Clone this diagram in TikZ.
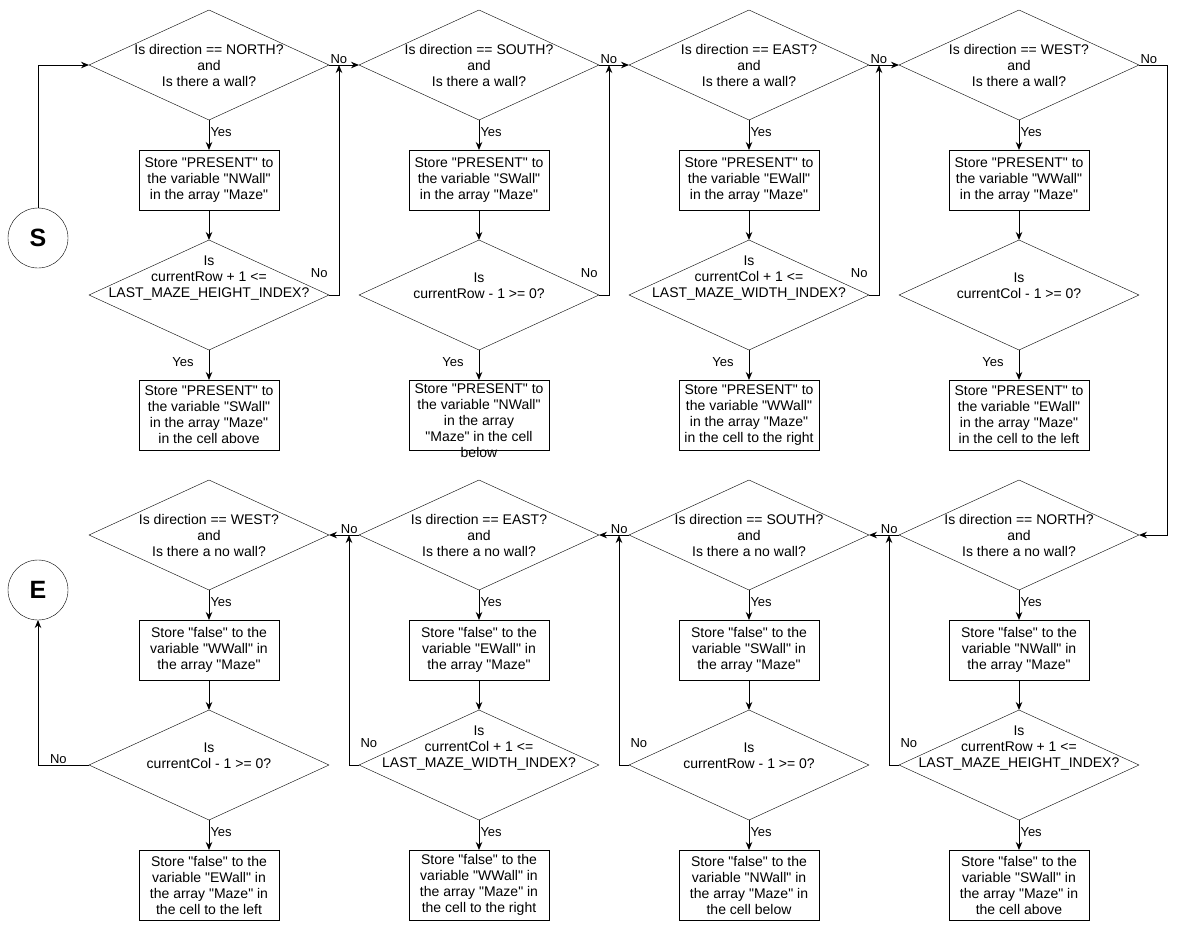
\documentclass[tikz,border=0pt]{standalone}
\usepackage{fontspec}
\setmainfont{Liberation Sans}
\newfontfamily\plainsans{Liberation Sans}
\usepackage{tikz}
\usetikzlibrary{shapes.geometric, positioning, arrows.meta, calc}

\begin{document}
\begin{tikzpicture}[
        x=1pt, y=-1pt,
        node distance=30pt and 30pt,
        dec/.style={draw, diamond, minimum width=240pt, minimum height=110pt, inner sep=0pt, outer sep=0pt},
        dtext/.style={align=center, inner sep=0pt, font=\plainsans\fontsize{14}{16}\selectfont},
        box/.style={draw, rectangle, minimum width=140pt, minimum height=60pt, align=center, inner sep=1pt, outer sep=0pt, font=\plainsans\fontsize{14}{16}\selectfont},
        tall/.style={box, minimum height=70pt},
        term/.style={draw, circle, minimum size=60pt, inner sep=0pt, outer sep=0pt, font=\plainsans\fontsize{25}{25}\selectfont\bfseries},
        yn/.style={inner sep=1pt, font=\plainsans\fontsize{13}{15}\selectfont},
        arr/.style={-{Stealth[length=8pt, width=6.5pt]}, line width=1pt}
    ]
    \useasboundingbox (0,0) rectangle (1178,929);

    % walls present
    \node[term] (start) at (38,238) {S};
    \node[dec, label={[dtext]center:{Is direction == NORTH?\\and\\Is there a wall?}}] (dN) at (209,65) {};
    \node[dec, right=of dN, label={[dtext]center:{Is direction == SOUTH?\\and\\Is there a wall?}}] (dS) {};
    \node[dec, right=of dS, label={[dtext]center:{Is direction == EAST?\\and\\Is there a wall?}}] (dE) {};
    \node[dec, right=of dE, label={[dtext]center:{Is direction == WEST?\\and\\Is there a wall?}}] (dW) {};

    \node[box, below=of dN] (sN) {Store "PRESENT" to\\the variable "NWall"\\in the array "Maze"};
    \node[box, below=of dS] (sS) {Store "PRESENT" to\\the variable "SWall"\\in the array "Maze"};
    \node[box, below=of dE] (sE) {Store "PRESENT" to\\the variable "EWall"\\in the array "Maze"};
    \node[box, below=of dW] (sW) {Store "PRESENT" to\\the variable "WWall"\\in the array "Maze"};

    \node[dec, below=of sN, label={[dtext]center:{Is\\currentRow + 1 <=\\LAST\_MAZE\_HEIGHT\_INDEX?\\\strut\\\strut}}] (bN) {};
    \node[dec, below=of sS, label={[dtext]center:{\strut\\Is\\currentRow - 1 >= 0?\\\strut\\\strut}}] (bS) {};
    \node[dec, below=of sE, label={[dtext]center:{Is\\currentCol + 1 <=\\LAST\_MAZE\_WIDTH\_INDEX?\\\strut\\\strut}}] (bE) {};
    \node[dec, below=of sW, label={[dtext]center:{\strut\\Is\\currentCol - 1 >= 0?\\\strut\\\strut}}] (bW) {};

    \node[tall, below=of bN] (nN) {Store "PRESENT" to\\the variable "SWall"\\in the array "Maze"\\in the cell above};
    \node[tall, below=of bS] (nS) {};
    \node[dtext, below=4pt of nS.north] (nStext) {Store "PRESENT" to\\the variable "NWall"\\in the array\\"Maze" in the cell\\below};
    \node[tall, below=of bE] (nE) {Store "PRESENT" to\\the variable "WWall"\\in the array "Maze"\\in the cell to the right};
    \node[tall, below=of bW] (nW) {Store "PRESENT" to\\the variable "EWall"\\in the array "Maze"\\in the cell to the left};

    % no walls
    \node[dec, label={[dtext]center:{Is direction == NORTH?\\and\\Is there a no wall?}}] (dNo) at (1019,535) {};
    \node[dec, left=of dNo, label={[dtext]center:{Is direction == SOUTH?\\and\\Is there a no wall?}}] (dSo) {};
    \node[dec, left=of dSo, label={[dtext]center:{Is direction == EAST?\\and\\Is there a no wall?}}] (dEo) {};
    \node[dec, left=of dEo, label={[dtext]center:{Is direction == WEST?\\and\\Is there a no wall?}}] (dWo) {};
    \node[term] (stop) at (38,590) {E};

    \node[box, below=of dNo] (sNo) {Store "false" to the\\variable "NWall" in\\the array "Maze"};
    \node[box, below=of dSo] (sSo) {Store "false" to the\\variable "SWall" in\\the array "Maze"};
    \node[box, below=of dEo] (sEo) {Store "false" to the\\variable "EWall" in\\the array "Maze"};
    \node[box, below=of dWo] (sWo) {Store "false" to the\\variable "WWall" in\\the array "Maze"};

    \node[dec, below=of sNo, label={[dtext]center:{Is\\currentRow + 1 <=\\LAST\_MAZE\_HEIGHT\_INDEX?\\\strut\\\strut}}] (bNo) {};
    \node[dec, below=of sSo, label={[dtext]center:{\strut\\Is\\currentRow - 1 >= 0?\\\strut\\\strut}}] (bSo) {};
    \node[dec, below=of sEo, label={[dtext]center:{Is\\currentCol + 1 <=\\LAST\_MAZE\_WIDTH\_INDEX?\\\strut\\\strut}}] (bEo) {};
    \node[dec, below=of sWo, label={[dtext]center:{\strut\\Is\\currentCol - 1 >= 0?\\\strut\\\strut}}] (bWo) {};

    \node[tall, below=of bNo] (nNo) {Store "false" to the\\variable "SWall" in\\the array "Maze" in\\the cell above};
    \node[tall, below=of bSo] (nSo) {Store "false" to the\\variable "NWall" in\\the array "Maze" in\\the cell below};
    \node[tall, below=of bEo] (nEo) {Store "false" to the\\variable "WWall" in\\the array "Maze" in\\the cell to the right};
    \node[tall, below=of bWo] (nWo) {Store "false" to the\\variable "EWall" in\\the array "Maze" in\\the cell to the left};

    % joints on the no-lines
    \coordinate (jN) at ($(dN.east)+(10,0)$);
    \coordinate (jS) at ($(dS.east)+(10,0)$);
    \coordinate (jE) at ($(dE.east)+(10,0)$);
    \coordinate (jNo) at ($(dNo.west)+(-10,0)$);
    \coordinate (jSo) at ($(dSo.west)+(-10,0)$);
    \coordinate (jEo) at ($(dEo.west)+(-10,0)$);

    \draw[arr] (start) |- (dN);

    \draw[arr] (dN.south) -- node[yn, pos=0.4, right] {Yes} (sN.north);
    \draw[arr] (dS.south) -- node[yn, pos=0.4, right] {Yes} (sS.north);
    \draw[arr] (dE.south) -- node[yn, pos=0.4, right] {Yes} (sE.north);
    \draw[arr] (dW.south) -- node[yn, pos=0.4, right] {Yes} (sW.north);
    \draw[arr] (sN) -- (bN);
    \draw[arr] (sS) -- (bS);
    \draw[arr] (sE) -- (bE);
    \draw[arr] (sW) -- (bW);
    \draw[arr] (bN.south) -- node[yn, pos=0.4, left=14pt] {Yes} (nN.north);
    \draw[arr] (bS.south) -- node[yn, pos=0.4, left=14pt] {Yes} (nS.north);
    \draw[arr] (bE.south) -- node[yn, pos=0.4, left=14pt] {Yes} (nE.north);
    \draw[arr] (bW.south) -- node[yn, pos=0.4, left=14pt] {Yes} (nW.north);

    \draw[arr] (dN.east) -- node[yn, pos=0, anchor=south west] {No} (dS.west);
    \draw[arr] (dS.east) -- node[yn, pos=0, anchor=south west] {No} (dE.west);
    \draw[arr] (dE.east) -- node[yn, pos=0, anchor=south west] {No} (dW.west);
    \draw[arr] (bN.east) -| node[yn, pos=0, anchor=south east, yshift=16pt] {No} (jN);
    \draw[arr] (bS.east) -| node[yn, pos=0, anchor=south east, yshift=16pt] {No} (jS);
    \draw[arr] (bE.east) -| node[yn, pos=0, anchor=south east, yshift=16pt] {No} (jE);
    \draw[arr] (dW.east) -- node[yn, pos=0, anchor=south west] {No} ++(28,0) |- (dNo.east);

    \draw[arr] (dNo.south) -- node[yn, pos=0.4, right] {Yes} (sNo.north);
    \draw[arr] (dSo.south) -- node[yn, pos=0.4, right] {Yes} (sSo.north);
    \draw[arr] (dEo.south) -- node[yn, pos=0.4, right] {Yes} (sEo.north);
    \draw[arr] (dWo.south) -- node[yn, pos=0.4, right] {Yes} (sWo.north);
    \draw[arr] (sNo) -- (bNo);
    \draw[arr] (sSo) -- (bSo);
    \draw[arr] (sEo) -- (bEo);
    \draw[arr] (sWo) -- (bWo);
    \draw[arr] (bNo.south) -- node[yn, pos=0.4, right] {Yes} (nNo.north);
    \draw[arr] (bSo.south) -- node[yn, pos=0.4, right] {Yes} (nSo.north);
    \draw[arr] (bEo.south) -- node[yn, pos=0.4, right] {Yes} (nEo.north);
    \draw[arr] (bWo.south) -- node[yn, pos=0.4, right] {Yes} (nWo.north);

    \draw[arr] (dNo.west) -- node[yn, pos=0, anchor=south east] {No} (dSo.east);
    \draw[arr] (dSo.west) -- node[yn, pos=0, anchor=south east] {No} (dEo.east);
    \draw[arr] (dEo.west) -- node[yn, pos=0, anchor=south east] {No} (dWo.east);
    \draw[arr] (bNo.west) -| node[yn, pos=0, anchor=south west, yshift=16pt] {No} (jNo);
    \draw[arr] (bSo.west) -| node[yn, pos=0, anchor=south west, yshift=16pt] {No} (jSo);
    \draw[arr] (bEo.west) -| node[yn, pos=0, anchor=south west, yshift=16pt] {No} (jEo);
    \draw[arr] (bWo.west) -| node[yn, pos=0.3, above] {No} (stop);

\end{tikzpicture}
\end{document}
